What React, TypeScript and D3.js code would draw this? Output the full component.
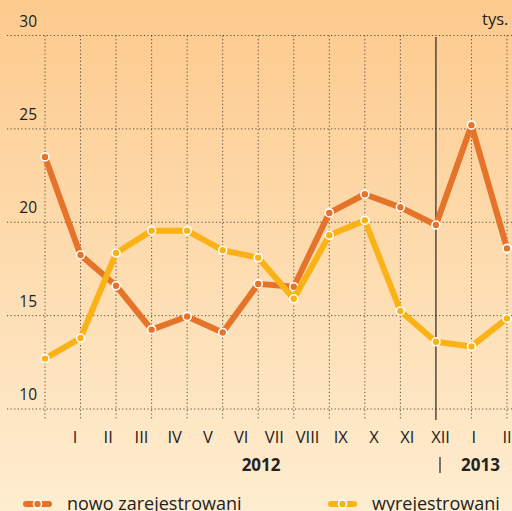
import React from 'react';
import * as d3 from 'd3';

const months = ['I', 'II', 'III', 'IV', 'V', 'VI', 'VII', 'VIII', 'IX', 'X', 'XI', 'XII', 'I', 'II'];
const registered = [23.5, 18.25, 16.6, 14.25, 14.95, 14.1, 16.7, 16.55, 20.5, 21.5, 20.8, 19.85, 25.2, 18.6];
const deregistered = [12.7, 13.8, 18.35, 19.55, 19.55, 18.5, 18.1, 15.9, 19.3, 20.1, 15.25, 13.6, 13.35, 14.85];
const yTicks = [10, 15, 20, 25, 30];
const years = [{ label: '2012', at: 5.6 }, { label: '2013', at: 12.2 }];
const seriesNames = ['nowo zarejestrowani', 'wyrejestrowani'];

const W = 512;
const H = 511;
const ORANGE = '#e6732a';
const YELLOW = '#fbb217';
const FONT = '"Open Sans", "Noto Sans", sans-serif';

const App = () => {
  const idx = months.map((_, i) => i);
  const x = d3.scalePoint<number>().domain(idx).range([45, 507]);
  // month labels sit on a slightly tighter spacing than the points
  const xLabel = d3.scaleLinear().domain([0, months.length - 1]).range([75, 507]);
  const y = d3.scaleLinear().domain([10, 30]).range([409, 35.5]);

  const line = d3.line<number>().x((_, i) => x(i)!).y(d => y(d));
  const series = [
    { name: seriesNames[0], values: registered, color: ORANGE },
    { name: seriesNames[1], values: deregistered, color: YELLOW },
  ];
  const splitIdx = 11;

  return (
    <svg width={W} height={H} style={{ position: 'absolute', left: 0, top: 0 }} fontFamily={FONT}>
      <defs>
        <linearGradient id="bg" x1="0" y1="0" x2="0" y2="1">
          <stop offset="0" stopColor="#fdca8d" />
          <stop offset="1" stopColor="#feedd0" />
        </linearGradient>
      </defs>
      <rect width={W} height={H} fill="url(#bg)" />

      {/* grid */}
      {yTicks.map(t => (
        <g key={t}>
          <line x1={7} x2={W} y1={y(t)} y2={y(t)} stroke="#5a4a3a" strokeWidth={1} strokeDasharray="1.2,2.4" />
          <text x={37} y={y(t) - 9} textAnchor="end" fontSize={15.5} fill="#222">{t}</text>
        </g>
      ))}
      {idx.map(i => i === splitIdx ? null : (
        <line key={i} x1={x(i)} x2={x(i)} y1={y(30)} y2={420} stroke="#5a4a3a" strokeWidth={1} strokeDasharray="1.2,2.4" />
      ))}
      <line x1={x(splitIdx)} x2={x(splitIdx)} y1={37} y2={420} stroke="#222" strokeWidth={1.2} />
      <text x={482} y={25} fontSize={16.5} fill="#222">tys.</text>

      {/* series */}
      {series.map(s => (
        <g key={s.name}>
          <path d={line(s.values)!} fill="none" stroke={s.color} strokeWidth={6} strokeLinejoin="round" />
          {s.values.map((v, i) => (
            <circle key={i} cx={x(i)} cy={y(v)} r={4} fill={s.color} stroke="#fff" strokeWidth={1.6} />
          ))}
        </g>
      ))}

      {/* x labels */}
      {months.map((m, i) => (
        <text key={i} x={xLabel(i)} y={443} textAnchor="middle" fontSize={16.5} fill="#222">{m}</text>
      ))}
      {years.map(yr => (
        <text key={yr.label} x={xLabel(yr.at)} y={471} textAnchor="middle" fontSize={17} fontWeight="bold" fill="#222">{yr.label}</text>
      ))}
      <line x1={440} x2={440} y1={457} y2={473} stroke="#222" strokeWidth={1.2} />

      {/* legend */}
      {series.map((s, k) => {
        const lx = k === 0 ? 23 : 328;
        return (
          <g key={s.name}>
            <line x1={lx + 3} x2={lx + 26} y1={504} y2={504} stroke={s.color} strokeWidth={6} strokeLinecap="round" />
            <circle cx={lx + 14.5} cy={504} r={4} fill={s.color} stroke="#fff" strokeWidth={1.6} />
            <text x={lx + 44} y={510} fontSize={18} fill="#222">{s.name}</text>
          </g>
        );
      })}
    </svg>
  );
};

export default App;
